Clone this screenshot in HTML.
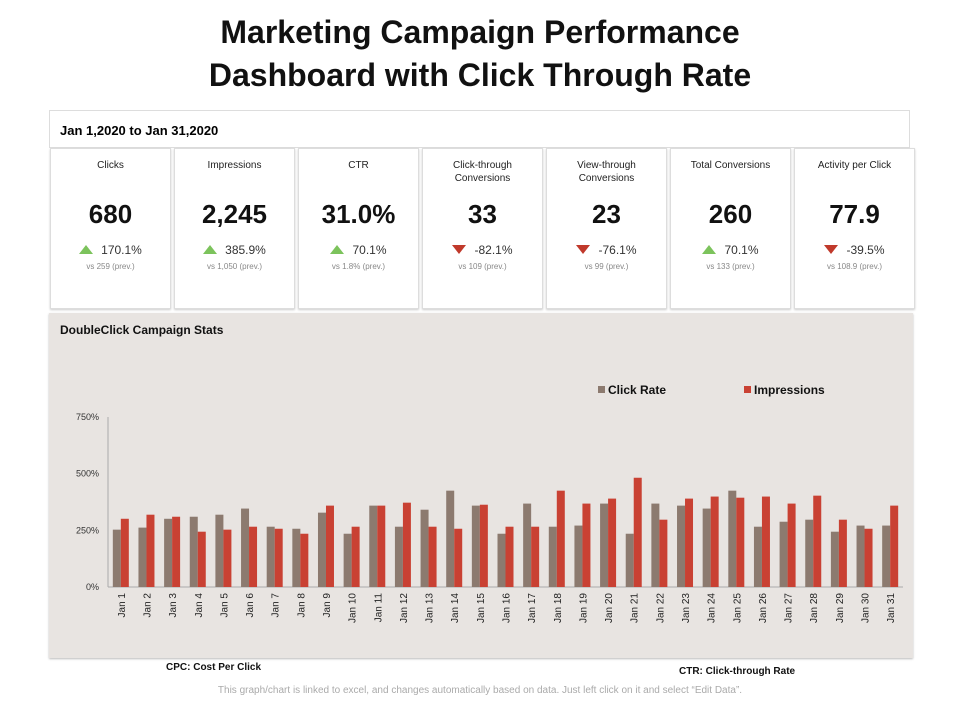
<!DOCTYPE html>
<html><head><meta charset="utf-8"><style>
body{margin:0;width:960px;height:720px;background:#fff;font-family:"Liberation Sans",sans-serif;position:relative;overflow:hidden}
.title{position:absolute;left:0;width:960px;top:11px;text-align:center;font-size:32px;font-weight:bold;line-height:43px;color:#111}
.hdr{position:absolute;left:49px;top:110px;width:861px;height:38px;border:1px solid #ddd;box-sizing:border-box;font-size:13px;font-weight:bold;padding:12px 0 0 10px}
.card{position:absolute;top:148px;width:121px;height:161px;border:1px solid #ddd;box-sizing:border-box;background:#fff;box-shadow:0 1px 2px #ccc;text-align:center}
.card .lab{position:absolute;top:10px;left:0;right:0;font-size:10px;line-height:13px;color:#222}
.card .val{position:absolute;top:50px;left:0;right:0;font-size:26px;font-weight:bold;color:#111}
.card .chg{position:absolute;top:94px;left:0;right:0;font-size:12px;color:#333}
.card .vs{position:absolute;top:113px;left:0;right:0;font-size:8px;color:#888}
.up{display:inline-block;width:0;height:0;border-left:7px solid transparent;border-right:7px solid transparent;border-bottom:9px solid #7cc35c;margin-right:8px}
.dn{display:inline-block;width:0;height:0;border-left:7px solid transparent;border-right:7px solid transparent;border-top:9px solid #c0392b;margin-right:8px}
.panel{position:absolute;left:49px;top:313px;width:864px;height:345px;background:#e8e4e1;box-shadow:0 1px 2px #bbb}
.foot{position:absolute;font-size:10px;font-weight:bold;color:#111}
</style></head><body>
<div class="title">Marketing Campaign Performance<br>Dashboard with Click Through Rate</div>
<div class="hdr">Jan 1,2020 to Jan 31,2020</div>
<div class="card" style="left:50px"><div class="lab">Clicks</div><div class="val">680</div><div class="chg"><span class="up"></span>170.1%</div><div class="vs">vs 259 (prev.)</div></div>
<div class="card" style="left:174px"><div class="lab">Impressions</div><div class="val">2,245</div><div class="chg"><span class="up"></span>385.9%</div><div class="vs">vs 1,050 (prev.)</div></div>
<div class="card" style="left:298px"><div class="lab">CTR</div><div class="val">31.0%</div><div class="chg"><span class="up"></span>70.1%</div><div class="vs">vs 1.8% (prev.)</div></div>
<div class="card" style="left:422px"><div class="lab">Click-through<br>Conversions</div><div class="val">33</div><div class="chg"><span class="dn"></span>-82.1%</div><div class="vs">vs 109 (prev.)</div></div>
<div class="card" style="left:546px"><div class="lab">View-through<br>Conversions</div><div class="val">23</div><div class="chg"><span class="dn"></span>-76.1%</div><div class="vs">vs 99 (prev.)</div></div>
<div class="card" style="left:670px"><div class="lab">Total Conversions</div><div class="val">260</div><div class="chg"><span class="up"></span>70.1%</div><div class="vs">vs 133 (prev.)</div></div>
<div class="card" style="left:794px"><div class="lab">Activity per Click</div><div class="val">77.9</div><div class="chg"><span class="dn"></span>-39.5%</div><div class="vs">vs 108.9 (prev.)</div></div>
<div class="panel"></div>
<svg id="chart" width="960" height="720" style="position:absolute;left:0;top:0"></svg>
<div class="foot" style="left:166px;top:662px">CPC: Cost Per Click</div>
<div class="foot" style="left:679px;top:666px">CTR: Click-through Rate</div>
<div style="position:absolute;left:0;width:960px;top:685px;text-align:center;font-size:10px;color:#aaa">This graph/chart is linked to excel, and changes automatically based on data. Just left click on it and select “Edit Data”.</div>
<script>
const categories=["Jan 1","Jan 2","Jan 3","Jan 4","Jan 5","Jan 6","Jan 7","Jan 8","Jan 9","Jan 10","Jan 11","Jan 12","Jan 13","Jan 14","Jan 15","Jan 16","Jan 17","Jan 18","Jan 19","Jan 20","Jan 21","Jan 22","Jan 23","Jan 24","Jan 25","Jan 26","Jan 27","Jan 28","Jan 29","Jan 30","Jan 31"];
const clickRate=[253,262,301,310,319,346,266,257,328,235,359,266,341,425,359,235,368,266,271,368,235,368,359,346,425,266,288,297,244,271,271];
const impressions=[301,319,310,244,253,266,257,235,359,266,359,372,266,257,363,266,266,425,368,390,482,297,390,399,394,399,368,403,297,257,359];
const yTicks=[0,250,500,750];
const yTickLabels=["0%","250%","500%","750%"];
const NS="http://www.w3.org/2000/svg";
const svg=document.getElementById('chart');
const x0=108,x1=903,yBase=587,yTop=417,yMax=750;
const step=(x1-x0)/categories.length;
function y(v){return yBase-(v/yMax)*(yBase-yTop);}
function xc(i){return x0+step*(i+0.5);}
function mk(t,a){const e=document.createElementNS(NS,t);for(const k in a)e.setAttribute(k,a[k]);svg.appendChild(e);return e;}
let t=mk('text',{x:60,y:334,'font-size':12,'font-weight':'bold',fill:'#111'});t.textContent='DoubleClick Campaign Stats';


yTicks.forEach((v,i)=>{const e=mk('text',{x:99,y:y(v)+3,'font-size':9,'text-anchor':'end',fill:'#333'});e.textContent=yTickLabels[i];

});
let ax=mk('line',{x1:x0,y1:yTop,x2:x0,y2:yBase,stroke:'#aaa'});


let bx=mk('line',{x1:x0,y1:yBase,x2:x1,y2:yBase,stroke:'#aaa'});


categories.forEach((c,i)=>{
 const cx=xc(i);
 const g=mk('rect',{x:cx-8,y:y(clickRate[i]),width:8,height:yBase-y(clickRate[i]),fill:'#8c7a6f'});
 
 
 const r=mk('rect',{x:cx,y:y(impressions[i]),width:8,height:yBase-y(impressions[i]),fill:'#c94133'});
 
 
 const l=mk('text',{x:0,y:0,'font-size':10,'text-anchor':'end',fill:'#222',transform:`translate(${cx+4},${yBase+6}) rotate(-90)`});
 l.textContent=c;
 
 
});
let lg1=mk('rect',{x:598,y:386,width:7,height:7,fill:'#8c7a6f'});


let lt1=mk('text',{x:608,y:394,'font-size':12,'font-weight':'bold',fill:'#111'});lt1.textContent='Click Rate';


let lg2=mk('rect',{x:744,y:386,width:7,height:7,fill:'#c94133'});


let lt2=mk('text',{x:754,y:394,'font-size':12,'font-weight':'bold',fill:'#111'});lt2.textContent='Impressions';


</script>
</body></html>
